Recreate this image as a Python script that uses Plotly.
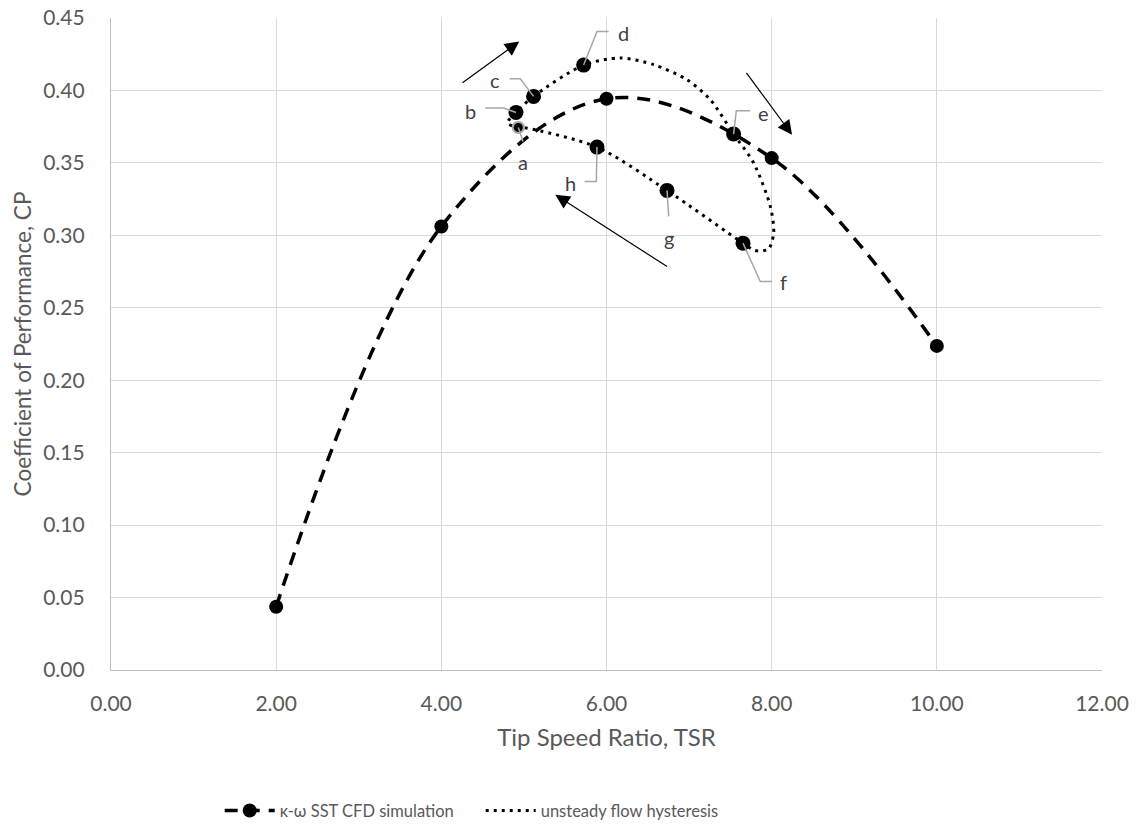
import plotly.graph_objects as go

# ---------------- data ----------------
cfd_tsr = [2.0, 4.0, 6.0, 8.0, 10.0]
cfd_cp = [0.0437, 0.3061, 0.3943, 0.3533, 0.2237]

hyst_labels = ["a", "b", "c", "d", "e", "f", "g", "h"]
hyst_tsr = [4.932, 4.904, 5.117, 5.723, 7.539, 7.653, 6.733, 5.885]
hyst_cp = [0.3745, 0.3848, 0.3959, 0.4175, 0.3699, 0.2946, 0.3310, 0.3609]

# hysteresis loop trace (b -> ... -> a -> b)
loop_tsr = [4.904, 5.117, 5.723, 6.167, 6.571, 6.975, 7.257, 7.539, 7.782, 7.984, 8.024,
            7.960, 7.800, 7.653, 6.733, 5.885, 5.037, 4.932, 4.800, 4.904]
loop_cp = [0.3848, 0.3959, 0.4175, 0.4224, 0.4178, 0.4074, 0.3936, 0.3699, 0.3499, 0.3199, 0.3015,
           0.2905, 0.2895, 0.2946, 0.3310, 0.3609, 0.3740, 0.3745, 0.3775, 0.3848]

x_ticks = [0, 2, 4, 6, 8, 10, 12]
y_ticks = [0.00, 0.05, 0.10, 0.15, 0.20, 0.25, 0.30, 0.35, 0.40, 0.45]

# ---------------- styling / layout helpers ----------------
label_offsets = {
    "a": (4.7, -35), "b": (-45.7, 1.7), "c": (-38.3, 16), "d": (39.4, 32),
    "e": (29.4, 21), "f": (40.6, -38.4), "g": (1.6, -47.6), "h": (-26.7, -35.4),
}
leader_paths = {
    "a": [(0, 0), (4.7, -14)],
    "b": [(0, 0), (-12.4, 4.4), (-30.7, 4.4)],
    "c": [(0, 0), (-13.3, 17.7), (-24, 17.7)],
    "d": [(0, 0), (13.4, 33.6), (25, 33.6)],
    "e": [(0, 0), (2.7, 23.3), (16.7, 23.3)],
    "f": [(0, 0), (17.3, -38.4), (29, -38.4)],
    "g": [(0, 0), (1.6, -26)],
    "h": [(0, 0), (-0.7, -34.4), (-12.4, -34.4)],
}
arrows = [
    (4.238, 0.4046, 4.944, 0.4338),
    (7.681, 0.4131, 8.247, 0.3694),
    (6.752, 0.2778, 5.380, 0.3280),
]

FONT = "Lato"
TXT = "#595959"

fig = go.Figure()

fig.add_trace(go.Scatter(
    x=cfd_tsr, y=cfd_cp, mode="lines+markers", name="κ-ω SST CFD simulation",
    line=dict(color="black", width=3.5, dash="13px,9px", shape="spline", smoothing=1.0),
    marker=dict(color="black", size=14),
))
fig.add_trace(go.Scatter(
    x=loop_tsr, y=loop_cp, mode="lines", name="unsteady flow hysteresis",
    line=dict(color="black", width=3, dash="3px,5px", shape="spline", smoothing=0.8),
))
fig.add_trace(go.Scatter(
    x=hyst_tsr[1:], y=hyst_cp[1:], mode="markers", showlegend=False,
    marker=dict(color="black", size=15),
))
fig.add_trace(go.Scatter(
    x=hyst_tsr[:1], y=hyst_cp[:1], mode="markers", showlegend=False,
    marker=dict(color="black", size=11, line=dict(color="#a6a6a6", width=2)),
))

shapes = []
annotations = []
for lab, xv, yv in zip(hyst_labels, hyst_tsr, hyst_cp):
    pts = leader_paths[lab]
    path = "M" + " L".join(f"{px},{py}" for px, py in pts)
    shapes.append(dict(
        type="path", xref="x", yref="y", xsizemode="pixel", ysizemode="pixel",
        xanchor=xv, yanchor=yv, path=path,
        line=dict(color="#a6a6a6", width=1.5), layer="above",
    ))
    dx, dy = label_offsets[lab]
    annotations.append(dict(
        x=xv, y=yv, xref="x", yref="y", text=lab, showarrow=False,
        xshift=dx, yshift=dy, font=dict(family=FONT, size=20, color="#404040"),
    ))

for tx, ty, hx, hy in arrows:
    annotations.append(dict(
        x=hx, y=hy, ax=tx, ay=ty, xref="x", yref="y", axref="x", ayref="y",
        text="", showarrow=True, arrowhead=2, arrowsize=2.4, arrowwidth=1.2,
        arrowcolor="black", standoff=0, startstandoff=0,
    ))

fig.update_layout(
    width=1141, height=827,
    margin=dict(l=111, r=39, t=18, b=157, autoexpand=False),
    paper_bgcolor="white", plot_bgcolor="white",
    font=dict(family=FONT, size=18, color=TXT),
    shapes=shapes, annotations=annotations,
    showlegend=True,
    legend=dict(orientation="h", x=0.1097, y=-0.216, xanchor="left", yanchor="middle",
                font=dict(family=FONT, size=16.5, color=TXT), itemwidth=50,
                entrywidth=196, entrywidthmode="pixels",
                bgcolor="rgba(0,0,0,0)"),
    xaxis=dict(
        range=[0, 12], tickvals=x_ticks, ticktext=[f"{v:.2f}" for v in x_ticks],
        showgrid=True, gridcolor="#d9d9d9", gridwidth=1, zeroline=False,
        showline=True, linecolor="#bfbfbf", linewidth=1.3, ticks="", ticklabelstandoff=15,
        title=dict(text="Tip Speed Ratio, TSR", standoff=14, font=dict(family=FONT, size=24, color=TXT)),
        tickfont=dict(family=FONT, size=21, color=TXT),
    ),
    yaxis=dict(
        range=[0, 0.45], tickvals=y_ticks, ticktext=[f"{v:.2f}" for v in y_ticks],
        showgrid=True, gridcolor="#d9d9d9", gridwidth=1, zeroline=False,
        showline=True, linecolor="#bfbfbf", linewidth=1.3, ticks="", ticklabelstandoff=21,
        title=dict(text="Coefficient of Performance, CP", standoff=5, font=dict(family=FONT, size=22.5, color=TXT)),
        tickfont=dict(family=FONT, size=21, color=TXT),
    ),
)

fig.write_html("out.html")
